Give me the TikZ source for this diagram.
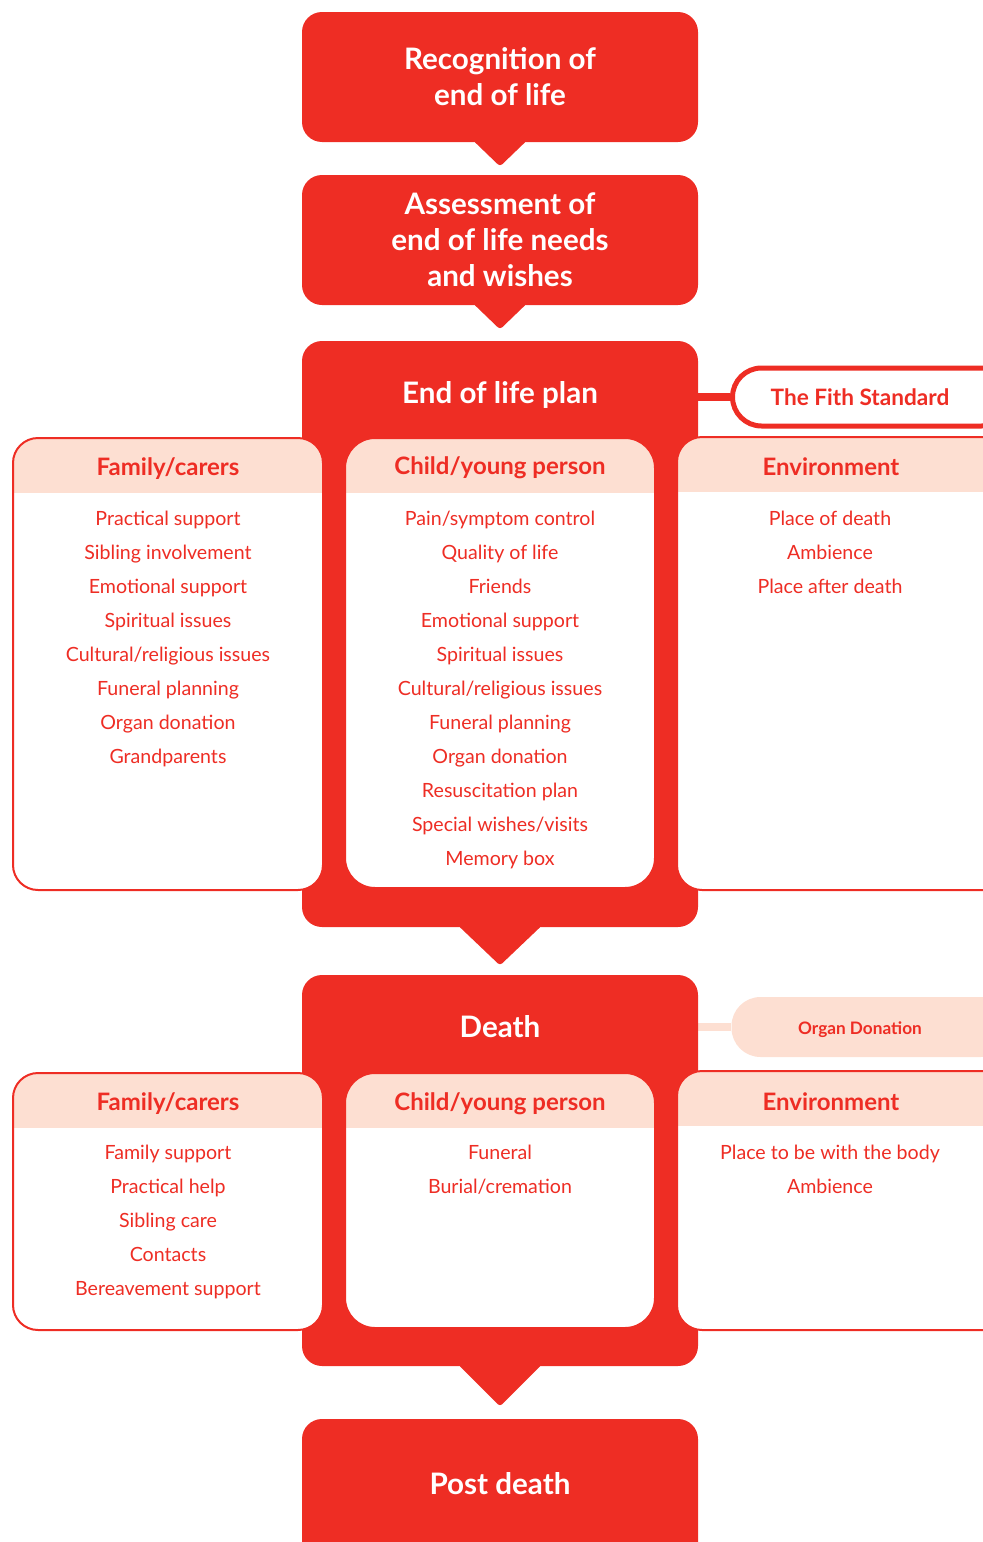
\documentclass[tikz,border=0pt]{standalone}
\usepackage{fontspec}
\setmainfont{Lato}
\usetikzlibrary{backgrounds}
\definecolor{nhsred}{HTML}{EE2D24}
\definecolor{pinkband}{HTML}{FDDFD2}
\begin{document}
\begin{tikzpicture}[x=0.5pt,y=-0.5pt,
  bigbox/.style={fill=nhsred, rounded corners=10pt, minimum width=198pt, inner sep=0pt,
    text=white, font=\bfseries\fontsize{14.8pt}{18pt}\selectfont, align=center},
  biglabel/.style={anchor=base, inner sep=0pt, text=white, font=\bfseries\fontsize{14.8pt}{18pt}\selectfont},
  pointer/.style={fill=nhsred, rounded corners=1.5pt},
  sidebox/.style={draw=nhsred, line width=1pt, fill=white, rounded corners=12.5pt,
    minimum width=155pt, inner sep=0pt,
    path picture={\fill[pinkband, sharp corners] (path picture bounding box.north west) rectangle ([yshift=-27.5pt]path picture bounding box.north east);}},
  header/.style={anchor=base, inner sep=0pt, text=nhsred, font=\bfseries\fontsize{12pt}{14pt}\selectfont},
  item/.style={anchor=base, inner sep=0pt, text=nhsred, font=\fontsize{9.8pt}{12pt}\selectfont},
  pill/.style={rounded corners=14.5pt, inner sep=0pt, minimum width=139pt, minimum height=29pt},
  pilllink/.style={line width=4pt},
]
\useasboundingbox (0,0) rectangle (983,1542);

% main red boxes
\node[bigbox, minimum height=65pt] (rec) at (500,77) {Recognition of\\end of life};
\node[bigbox, minimum height=65pt] (ass) at (500,240) {Assessment of\\end of life needs\\and wishes};
\node[bigbox, minimum height=293pt] (plan) at (500,634) {};
\node[bigbox, minimum height=195.5pt] (death) at (500,1170.5) {};
\node[bigbox, minimum height=80.5pt] (post) at (500,1499.5) {};

% pointers
\fill[pointer] ([xshift=-13.5pt,yshift=1pt]rec.south) -- ([yshift=-12pt]rec.south) -- ([xshift=13.5pt,yshift=1pt]rec.south) -- cycle;
\fill[pointer] ([xshift=-13.5pt,yshift=1pt]ass.south) -- ([yshift=-12pt]ass.south) -- ([xshift=13.5pt,yshift=1pt]ass.south) -- cycle;
\fill[pointer] ([xshift=-21pt,yshift=1pt]plan.south) -- ([yshift=-19pt]plan.south) -- ([xshift=21pt,yshift=1pt]plan.south) -- cycle;
\fill[pointer] ([xshift=-21pt,yshift=1pt]death.south) -- ([yshift=-20pt]death.south) -- ([xshift=21pt,yshift=1pt]death.south) -- cycle;

% pills and their connectors
\node[pill, draw=nhsred, line width=2.5pt, fill=white] (fifth) at (871.5,397) {};
\node[pill, fill=pinkband, minimum height=30pt] (organ) at (870.5,1027) {};
\begin{scope}[on background layer]
\draw[pilllink, nhsred] (plan.east |- fifth.west) -- (fifth.west);
\draw[pilllink, pinkband] (death.east |- organ.west) -- (organ.west);
\end{scope}
\node[anchor=base, inner sep=0pt, text=nhsred, font=\bfseries\fontsize{11.3pt}{13pt}\selectfont] (fifthlbl) at (860,405) {The Fith Standard};
\node[anchor=base, inner sep=0pt, text=nhsred, font=\bfseries\fontsize{8.6pt}{10pt}\selectfont] (organlbl) at (860,1034) {Organ Donation};

% big box labels
\node[biglabel] (planlbl) at (500,403) {End of life plan};
\node[biglabel] (deathlbl) at (500,1037) {Death};
\node[biglabel] (postlbl) at (500,1494) {Post death};

% upper side boxes
\node[sidebox, minimum height=226pt] (fu) at (168,664) {};
\node[sidebox, minimum height=225pt, rounded corners=15pt] (cu) at (500,663) {};
\node[sidebox, minimum width=166.5pt, minimum height=226.5pt] (eu) at (843.5,663.5) {};
\node[header] (fuh) at (168,475) {Family/carers};
\node[header] (cuh) at (500,474) {Child/young person};
\node[header] (euh) at (831,475) {Environment};

\foreach \t [count=\i] in {Practical support, Sibling involvement, Emotional support, Spiritual issues, Cultural/religious issues, Funeral planning, Organ donation, Grandparents}
  \node[item] (fu\i) at (168,{525+34*(\i-1)}) {\t};
\foreach \t [count=\i] in {Pain/symptom control, Quality of life, Friends, Emotional support, Spiritual issues, Cultural/religious issues, Funeral planning, Organ donation, Resuscitation plan, Special wishes/visits, Memory box}
  \node[item] (cu\i) at (500,{525+34*(\i-1)}) {\t};
\foreach \t [count=\i] in {Place of death, Ambience, Place after death}
  \node[item] (eu\i) at (830,{525+34*(\i-1)}) {\t};

% lower side boxes
\node[sidebox, minimum height=128.5pt] (fl) at (168,1201.5) {};
\node[sidebox, minimum height=127.5pt, rounded corners=15pt] (cl) at (500,1200.5) {};
\node[sidebox, minimum width=166.5pt, minimum height=129.5pt] (el) at (843.5,1200.5) {};
\node[header] (flh) at (168,1110) {Family/carers};
\node[header] (clh) at (500,1110) {Child/young person};
\node[header] (elh) at (831,1110) {Environment};

\foreach \t [count=\i] in {Family support, Practical help, Sibling care, Contacts, Bereavement support}
  \node[item] (fl\i) at (168,{1159+34*(\i-1)}) {\t};
\foreach \t [count=\i] in {Funeral, Burial/cremation}
  \node[item] (cl\i) at (500,{1159+34*(\i-1)}) {\t};
\foreach \t [count=\i] in {Place to be with the body, Ambience}
  \node[item] (el\i) at (830,{1159+34*(\i-1)}) {\t};
\end{tikzpicture}
\end{document}
